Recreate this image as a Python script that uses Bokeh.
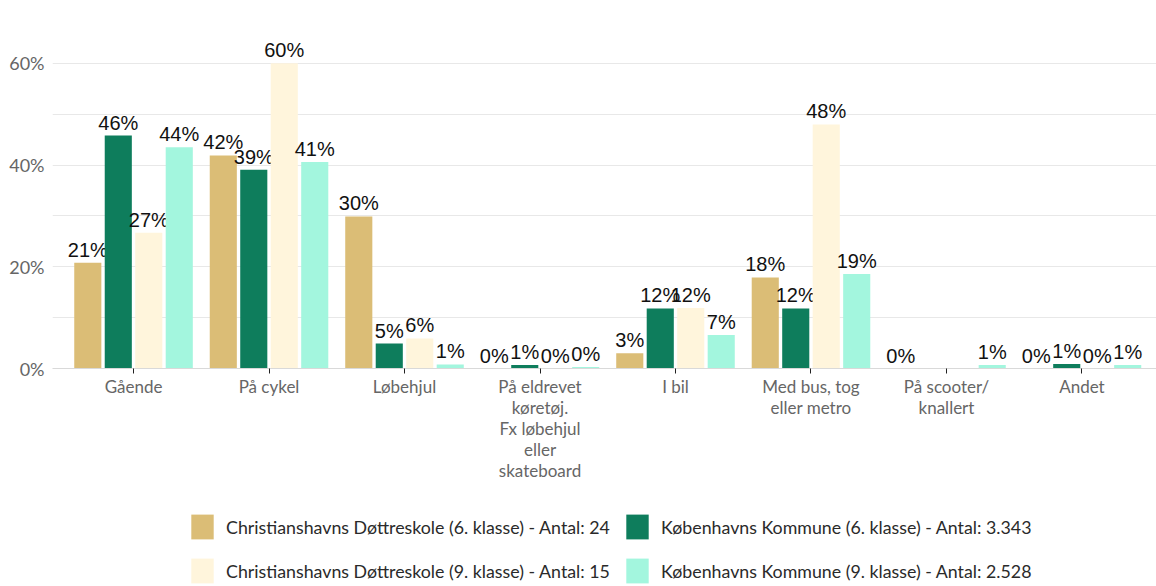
import math
from bokeh.plotting import figure
from bokeh.layouts import column
from bokeh.models import (FixedTicker, Range1d, ColumnDataSource, PrintfTickFormatter,
                          Legend, LegendItem)
from bokeh.transform import dodge
from bokeh.core.properties import value
from bokeh.embed import file_html
from bokeh.resources import INLINE

NaN = float("nan")

categories = [
    "Gående",
    "På cykel",
    "Løbehjul",
    "På eldrevet\nkøretøj.\nFx løbehjul\neller\nskateboard",
    "I bil",
    "Med bus, tog\neller metro",
    "På scooter/\nknallert",
    "Andet",
]

series_names = [
    "Christianshavns Døttreskole (6. klasse) - Antal: 24",
    "Københavns Kommune (6. klasse) - Antal: 3.343",
    "Christianshavns Døttreskole (9. klasse) - Antal: 15",
    "Københavns Kommune (9. klasse) - Antal: 2.528",
]

colors = ["#dbbd76", "#0e7d5c", "#fff5dc", "#a3f6de"]

cd6 = [20.8, 41.9, 29.9, 0.0, 3.0, 17.9, 0.0, 0.0]
kk6 = [45.8, 39.1, 4.9, 0.7, 11.8, 11.8, NaN, 0.9]
cd9 = [26.7, 60.0, 5.9, 0.0, 11.9, 48.0, NaN, 0.0]
kk9 = [43.5, 40.6, 0.8, 0.3, 6.6, 18.6, 0.7, 0.7]

y_ticks = [0, 20, 40, 60]
grid_ticks = [0, 10, 20, 30, 40, 50, 60, 70]

offsets = [-0.3375, -0.1125, 0.1125, 0.3375]

p = figure(
    width=1156, height=500,
    output_backend="svg", toolbar_location=None,
    x_range=Range1d(-0.598, 7.550), y_range=Range1d(0, 70),
    min_border_left=52, min_border_right=0, min_border_top=12, min_border_bottom=132,
)
p.outline_line_color = None
p.background_fill_color = "white"

sources = []
for name, col, vals, off in zip(series_names, colors, [cd6, kk6, cd9, kk9], offsets):
    labs = ["" if math.isnan(v) else f"{v:.0f}%" for v in vals]
    src = ColumnDataSource(dict(x=list(range(len(categories))), y=vals, lab=labs))
    sources.append(src)
    p.vbar(x=dodge("x", off, range=p.x_range), top="y", width=0.2, source=src,
           fill_color=col, line_color=None)
    p.text(x=dodge("x", off, range=p.x_range), y="y", text="lab", source=src,
           text_align="center", text_baseline="bottom", y_offset=-2,
           text_font=value("Liberation Sans"), text_font_size="20px", text_color="#111111")

# y axis
p.yaxis.ticker = FixedTicker(ticks=y_ticks)
p.yaxis.formatter = PrintfTickFormatter(format="%d%%")
p.yaxis.axis_line_color = None
p.yaxis.major_tick_line_color = None
p.yaxis.major_tick_out = 0
p.yaxis.major_tick_in = 0
p.yaxis.minor_tick_line_color = None
p.yaxis.major_label_standoff = 8
p.yaxis.major_label_text_font = "Lato"
p.yaxis.major_label_text_font_size = "18px"
p.yaxis.major_label_text_color = "#666666"

p.ygrid.ticker = FixedTicker(ticks=grid_ticks)
p.ygrid.grid_line_color = "#e8e8e8"
p.xgrid.grid_line_color = None

# x axis
p.xaxis.ticker = FixedTicker(ticks=list(range(len(categories))))
p.xaxis.major_label_overrides = {i: c for i, c in enumerate(categories)}
p.xaxis.axis_line_color = "#d9d9d9"
p.xaxis.major_tick_line_color = "#222222"
p.xaxis.major_tick_out = 5
p.xaxis.major_tick_in = 0
p.xaxis.minor_tick_line_color = None
p.xaxis.major_label_standoff = 2
p.xaxis.major_label_text_font = "Lato"
p.xaxis.major_label_text_font_size = "17px"
p.xaxis.major_label_text_line_height = 1.0
p.xaxis.major_label_text_color = "#666666"

# legend in its own strip below the chart; its renderers are hidden so that
# only the legend swatches are shown there
lf = figure(
    width=1156, height=86, output_backend="svg", toolbar_location=None,
    x_axis_type=None, y_axis_type=None,
    x_range=Range1d(100, 101), y_range=Range1d(0, 1),
    min_border_left=0, min_border_right=0, min_border_top=0, min_border_bottom=0,
)
lf.outline_line_color = None
lf.xgrid.grid_line_color = None
lf.ygrid.grid_line_color = None

items = []
for name, col, src in zip(series_names, colors, sources):
    r = lf.vbar(x="x", top="y", width=0.2, source=src, fill_color=col, line_color=None)
    r.visible = False
    items.append(LegendItem(label=name, renderers=[r]))

leg = Legend(
    items=items, location=(136, 0), orientation="horizontal", ncols=2,
    padding=0, margin=0, spacing=13,
    glyph_width=28, glyph_height=31, label_standoff=10,
    label_text_font="Lato", label_text_font_size="17.8px", label_text_color="#2a2a2a",
    border_line_color=None, background_fill_alpha=0,
    click_policy="none", inactive_fill_alpha=0,
)
lf.add_layout(leg, "center")

layout = column(p, lf, spacing=0)
open("out.html", "w").write(file_html(layout, INLINE))
